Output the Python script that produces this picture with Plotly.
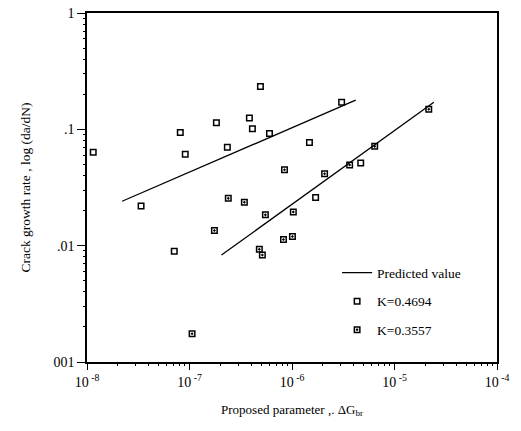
import plotly.graph_objects as go

# K=0.4694 (open squares)
k1_x = [1.15e-8, 3.37e-8, 8.13e-8, 9.09e-8, 1.83e-7, 2.34e-7, 3.84e-7, 4.11e-7,
        4.92e-7, 6.03e-7, 7.1e-8, 1.48e-6, 3.05e-6, 1.7e-6, 4.68e-6]
k1_y = [0.0636, 0.0219, 0.0938, 0.0612, 0.114, 0.0701, 0.125, 0.101,
        0.233, 0.092, 0.00896, 0.0772, 0.171, 0.026, 0.0514]

# K=0.3557 (squares with dot)
k2_x = [8.45e-7, 2.39e-7, 3.43e-7, 5.5e-7, 1.75e-7, 4.8e-7, 5.14e-7, 8.26e-7,
        1.01e-6, 1.03e-6, 1.06e-7, 2.08e-6, 3.65e-6, 6.41e-6, 2.16e-5]
k2_y = [0.0449, 0.0255, 0.0236, 0.0184, 0.0135, 0.0093, 0.0083, 0.0113,
        0.012, 0.0195, 0.00175, 0.0415, 0.0494, 0.0714, 0.149]

# Predicted value lines
pred1_x = [2.2e-8, 4.18e-6]
pred1_y = [0.0241, 0.178]
pred2_x = [2.05e-7, 2.42e-5]
pred2_y = [0.0083, 0.171]

x_tickvals = [1e-8, 1e-7, 1e-6, 1e-5, 1e-4]
x_ticktext = ["10<sup> -8</sup>", "10<sup> -7</sup>", "10<sup> -6</sup>", "10<sup> -5</sup>", "10<sup> -4</sup>"]
y_tickvals = [1, 0.1, 0.01, 0.001]
y_ticktext = ["1", ".1", ".01", "001"]

font = "Liberation Serif"

fig = go.Figure()
fig.add_trace(go.Scatter(x=pred1_x, y=pred1_y, mode="lines", name="Predicted value",
                         line=dict(color="black", width=1.3), legendgroup="p"))
fig.add_trace(go.Scatter(x=pred2_x, y=pred2_y, mode="lines", name="Predicted value",
                         line=dict(color="black", width=1.3), legendgroup="p", showlegend=False))
fig.add_trace(go.Scatter(x=k1_x, y=k1_y, mode="markers", name="K=0.4694", legendgroup="a",
                         marker=dict(symbol="square-open", size=5.5, color="black",
                                     line=dict(width=1.5, color="black"))))
fig.add_trace(go.Scatter(x=k2_x, y=k2_y, mode="markers", name="K=0.3557", legendgroup="b",
                         marker=dict(symbol="square-open-dot", size=5.5, color="black",
                                     line=dict(width=1.5, color="black"))))

minor_x = [m * 10.0 ** e for e in range(-8, -4) for m in range(2, 10)]
minor_y = [m * 10.0 ** e for e in range(-3, 0) for m in range(2, 10)]

fig.update_xaxes(type="log", range=[-8, -4], tickmode="array", tickvals=x_tickvals,
                 ticktext=x_ticktext, ticks="outside", ticklen=6, tickwidth=1.2,
                 tickcolor="black", showline=True, linecolor="black", linewidth=1.5,
                 mirror=True, showgrid=False, zeroline=False,
                 tickfont=dict(family=font, size=14, color="black"),
                 minor=dict(tickmode="array", tickvals=minor_x, ticks="outside",
                            ticklen=2, tickcolor="black", showgrid=False),
                 title=dict(text="Proposed parameter ,. ΔG<sub>br</sub>",
                            font=dict(family=font, size=13, color="black"), standoff=16))
fig.update_yaxes(type="log", range=[-3, 0], tickmode="array", tickvals=y_tickvals,
                 ticktext=y_ticktext, ticks="outside", ticklen=8, tickwidth=1.2,
                 tickcolor="black", showline=True, linecolor="black", linewidth=1.5,
                 mirror=True, showgrid=False, zeroline=False,
                 tickfont=dict(family=font, size=14, color="black"),
                 minor=dict(tickmode="array", tickvals=minor_y, ticks="outside",
                            ticklen=2, tickcolor="black", showgrid=False),
                 title=dict(text="Crack growth rate , log (da/dN)",
                            font=dict(family=font, size=13.5, color="black"), standoff=20))

fig.update_layout(
    width=521, height=431,
    margin=dict(l=87, r=24, t=6, b=69),
    paper_bgcolor="white", plot_bgcolor="white",
    font=dict(family=font, size=13, color="black"),
    legend=dict(x=0.61, y=0.30, xanchor="left", yanchor="top",
                bgcolor="rgba(0,0,0,0)", font=dict(family=font, size=13.5, color="black"),
                itemwidth=30, tracegroupgap=8),
    showlegend=True,
)

fig.write_html("out.html")
